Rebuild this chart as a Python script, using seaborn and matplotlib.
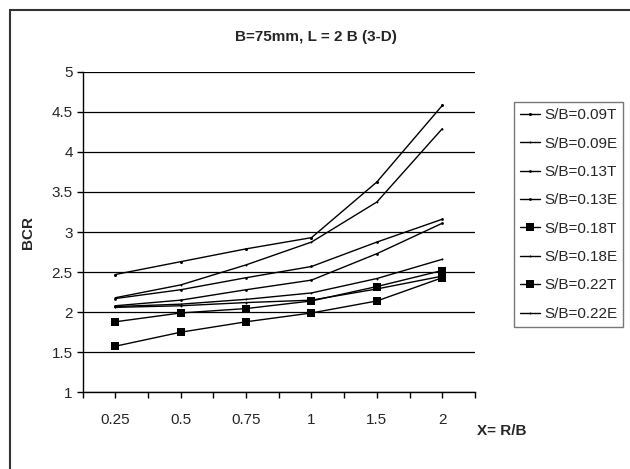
import pandas as pd
import seaborn as sns
import matplotlib.pyplot as plt
from matplotlib.patches import Rectangle
from matplotlib.ticker import MultipleLocator

# Values
x_labels = ["0.25", "0.5", "0.75", "1", "1.5", "2"]
series_names = ["S/B=0.09T", "S/B=0.09E", "S/B=0.13T", "S/B=0.13E",
                "S/B=0.18T", "S/B=0.18E", "S/B=0.22T", "S/B=0.22E"]
sb_009T = [2.47, 2.63, 2.79, 2.93, 3.625, 4.58]
sb_009E = [2.18, 2.34, 2.59, 2.875, 3.375, 4.29]
sb_013T = [2.17, 2.28, 2.43, 2.57, 2.875, 3.16]
sb_013E = [2.08, 2.15, 2.28, 2.40, 2.73, 3.11]
sb_018T = [1.88, 1.99, 2.045, 2.14, 2.32, 2.52]
sb_018E = [2.07, 2.10, 2.16, 2.24, 2.42, 2.66]
sb_022T = [1.575, 1.75, 1.88, 1.99, 2.14, 2.43]
sb_022E = [2.06, 2.08, 2.12, 2.15, 2.29, 2.45]

all_values = [sb_009T, sb_009E, sb_013T, sb_013E, sb_018T, sb_018E, sb_022T, sb_022E]
df = pd.DataFrame([
    {"x": x, "BCR": v, "series": name}
    for name, vals in zip(series_names, all_values)
    for x, v in zip(x_labels, vals)
])

sns.set_style("white")
plt.rcParams['font.family'] = ['Liberation Sans', 'DejaVu Sans']

fig = plt.figure(figsize=(6.3, 4.69), dpi=100)
ax = fig.add_axes([0.131, 0.1635, 0.623, 0.6835])

markers = {"S/B=0.09T": "o", "S/B=0.09E": "o", "S/B=0.13T": "o", "S/B=0.13E": "o",
           "S/B=0.18T": "s", "S/B=0.18E": "o", "S/B=0.22T": "s", "S/B=0.22E": "o"}
sizes = {"S/B=0.09T": 2.2, "S/B=0.09E": 1.4, "S/B=0.13T": 2.0, "S/B=0.13E": 2.0,
         "S/B=0.18T": 5.5, "S/B=0.18E": 1.4, "S/B=0.22T": 5.5, "S/B=0.22E": 1.4}

for name in series_names:
    sub = df[df.series == name]
    sns.lineplot(data=sub, x="x", y="BCR", ax=ax, color="black", lw=1.0,
                 marker=markers[name], markersize=sizes[name], markeredgewidth=0,
                 label=name, sort=False)

ax.set_xlim(-0.5, 5.5)
ax.set_ylim(1, 5)
ax.yaxis.set_major_locator(MultipleLocator(0.5))
ax.set_yticklabels([f"{t:g}" for t in ax.get_yticks()])
ax.set_xticks(range(6))
ax.set_xticklabels(x_labels)
ax.set_xticks([i - 0.5 for i in range(7)], minor=True)
ax.tick_params(axis="x", which="both", direction="out", length=4, width=1,
               color="black", bottom=True, labelsize=11, pad=11)
ax.tick_params(axis="y", direction="out", length=4, width=1, color="black",
               left=True, labelsize=11, pad=3)
ax.grid(axis="y", color="black", lw=0.9)
ax.grid(axis="x", visible=False)
ax.get_ygridlines()[-1].set_color("#c0c0c0")
ax.set_axisbelow(True)
for side in ["top", "right"]:
    ax.spines[side].set_visible(False)
for side in ["left", "bottom"]:
    ax.spines[side].set_color("black")
    ax.spines[side].set_linewidth(1)

ax.set_xlabel("")
ax.set_ylabel("BCR", fontsize=11, fontweight="bold", labelpad=12)
fig.text(0.502, 0.921, "B=75mm, L = 2 B (3-D)", ha="center", va="center",
         fontsize=11, fontweight="bold")
fig.text(0.757, 0.08, "X= R/B", ha="left", va="center", fontsize=11, fontweight="bold")

leg = ax.legend(loc="upper left", bbox_to_anchor=(1.1, 0.905), frameon=True,
                fancybox=False, edgecolor="#555555", fontsize=11, handlelength=1.3,
                handletextpad=0.25, labelspacing=0.94, borderpad=0.4, borderaxespad=0)
leg.get_frame().set_linewidth(1)

# outer chart border
fig.patches.append(Rectangle((0.016, -0.1), 1.2, 0.1 + 0.979, transform=fig.transFigure,
                             fill=False, edgecolor="#333333", lw=1.5))

fig.savefig("out.png", dpi=100)
